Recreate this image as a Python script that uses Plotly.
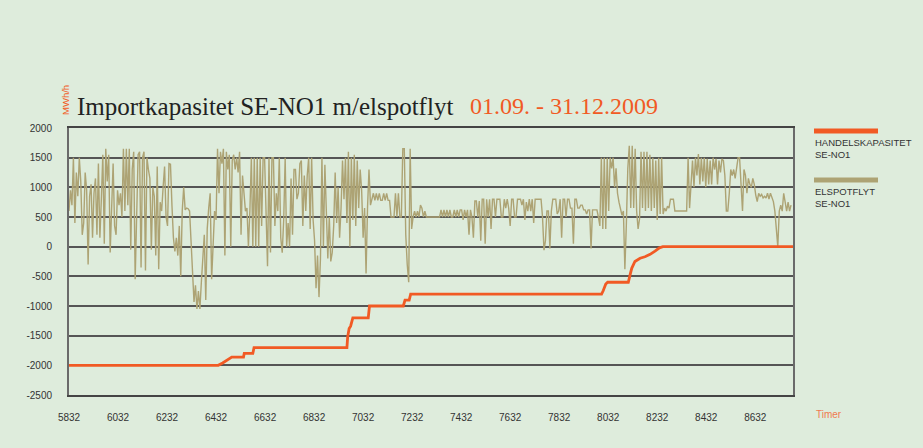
import plotly.graph_objects as go

# ---------------- data ----------------
# Hour index of first sample (01.09.2009 00:00) and sampling step (hours) of the flow series
flow_start = 5832
flow_step = 6

# ELSPOTFLYT SE-NO1 (MWh/h) at 6-hour resolution
flow_sep = [600, 950, 700, 1500, 400, 1250, 850, 1500, 1100, 200, 400, 1250,
            950, -300, 850, 1050, 150, 900, 1150, 200, 1400, 150, 800, 1550,
            50, 1650, 1100, 1550, -100, 800, 1400, 350, 200, 950, 700, 900,
            500, 1650, 600, 1650, 700, 1650, -50, 1300, 1600, -550, 400, 1550,
            1600, -350, 1500, 1600, -400, 1500, 1300, 1150, -50, 1000, 850, -150,
            1350, -380, 750, 600, 1000, 1350, 500, 350, 1400, 1390, 700, 150,
            -80, 150, -150, 350, -500, 600, 1000, 620, 650, 640, 600, 100,
            -600, -930, -650, -1050, -750, -1050, -600, -200, 200, -900, 300, 650,
            900, -550, 200, 600, 450, 1650, 900, 1600, 1400, 1650, -150, 1600,
            1300, 1550, 0, 1450, 1550, 1300, 1500, 1250, 1600, 200, 1200, 900]

flow_oct = [600, 650, 0, 600, 1500, 0, 1500, 0, 1500, 0, 1500, 350,
            1500, 1500, 350, -330, 1500, -100, 1500, 1500, 350, 900, 600, 1500,
            150, -100, 450, 1500, 0, 400, 0, 1150, 200, 1300, 1300, 800,
            900, 1400, 1450, 350, 1200, 600, 1200, 1500, 300, 1500, 450, 100,
            -700, -150, -850, -200, 1500, 0, 1380, 350, -200, 500, -250, -100,
            350, 1250, 400, 1000, 150, 650, 1450, 800, 1500, 400, 1600, 0,
            1500, 450, 1550, 350, 1450, 650, 1300, 950, 150, 650, -450, 650,
            1300, 700, 780, 900, 780, 900, 780, 900, 780, 780, 900, 780,
            900, 780, 780, 500, 500, 500, 900, 500, 900, 500, 500, 1650,
            1650, 200, -300, -600, 1650, 300, 500, 600, 500, 600, 500, 700,
            650, 500, 600, 500]

flow_nov = [500, 500, 500, 500, 500, 500, 500, 500, 500, 620, 500, 620,
            500, 620, 500, 620, 500, 500, 620, 500, 620, 500, 620, 620,
            450, 620, 500, 620, 200, 620, 500, 150, 770, 770, 500, 770,
            100, 800, 800, 50, 800, 500, 800, 300, 800, 800, 500, 800,
            800, 800, 500, 500, 800, 650, 800, 650, 350, 800, 800, 500,
            500, 800, 800, 800, 700, 800, 450, 750, 600, 800, 600, 800,
            400, 800, 800, 800, 800, 800, 500, -60, 100, 600, 600, -30,
            600, 800, 800, 800, 550, 600, 800, 150, 800, 800, 500, 800,
            800, 650, 650, 50, 800, 800, 650, 650, 700, 700, 620, 620,
            550, 620, 620, -30, 620, 620, 620, 620, 500, 350, 1500, 300]

flow_dec = [1500, 300, 1500, 600, 1500, 1320, 1500, 1000, 1320, 900, 750, 650,
            530, 600, -380, 370, 1320, 1700, 650, 1700, 650, 1650, 600, 300,
            470, 1600, 650, 1600, 600, 1600, 650, 1550, 600, 1500, 650, 1450,
            450, 1500, 550, 1500, 550, 650, 600, 680, 650, 800, 800, 800,
            600, 600, 600, 600, 600, 600, 600, 600, 600, 1500, 650, 1050,
            1450, 1000, 1500, 1200, 1560, 1050, 1500, 1100, 1500, 1000, 1480, 1050,
            1450, 1050, 1500, 1300, 1480, 1050, 1450, 1250, 1480, 1450, 1200, 600,
            600, 900, 1300, 1200, 1300, 1150, 1380, 1500, 1500, 900, 600, 1300,
            1200, 900, 1150, 1050, 1000, 1150, 1050, 870, 760, 900, 850, 880,
            820, 850, 820, 900, 800, 900, 820, 760, 600, 350, 0, 600,
            700, 600, 900, 750, 600, 750, 600, 700]

# HANDELSKAPASITET SE-NO1 (MWh/h): break points (hour, value)
cap_hours = [5832, 6441, 6459, 6475, 6496, 6544, 6547, 6582, 6587, 6966,
             6969, 6975, 6981, 6990, 7053, 7058, 7196, 7203, 7220, 7226,
             8005, 8012, 8022, 8030, 8114, 8121, 8128, 8141, 8162, 8182,
             8203, 8223, 8241, 8255, 8786]
cap_values = [-2000, -2000, -1960, -1920, -1860, -1860, -1800, -1800, -1700, -1700,
              -1520, -1380, -1340, -1200, -1200, -1000, -1000, -900, -900, -800,
              -800, -740, -630, -600, -600, -480, -365, -250, -195, -170,
              -130, -75, -20, 0, 0]

x_range = [5832, 8786]
y_range = [-2500, 2000]
x_ticks = [5832, 6032, 6232, 6432, 6632, 6832, 7032, 7232, 7432, 7632, 7832, 8032, 8232, 8432, 8632]
y_ticks = [-2500, -2000, -1500, -1000, -500, 0, 500, 1000, 1500, 2000]

title_main = "Importkapasitet SE-NO1 m/elspotflyt"
title_period = "01.09. - 31.12.2009"
unit_label = "MWh/h"
x_label = "Timer"
legend_labels = ["HANDELSKAPASITET<br>SE-NO1", "ELSPOTFLYT<br>SE-NO1"]

# ---------------- styles / layout ----------------
BG = "#deecdc"
ORANGE = "#f15a24"
KHAKI = "#ada374"
GRID = "#555555"
TXT = "#333333"

W, H = 923, 448
ML, MR, MT, MB = 69, 130, 128, 53
PW, PH = W - ML - MR, H - MT - MB

def px2paper(px, py):
    return (px - ML) / PW, (H - MB - py) / PH

flow = flow_sep + flow_oct + flow_nov + flow_dec
flow_hours = [flow_start + flow_step * i for i in range(len(flow))]

fig = go.Figure()
fig.add_trace(go.Scatter(x=flow_hours, y=flow, mode="lines",
                         line=dict(color=KHAKI, width=1.4), name="ELSPOTFLYT SE-NO1",
                         showlegend=False, hoverinfo="skip"))
fig.add_trace(go.Scatter(x=cap_hours, y=cap_values, mode="lines",
                         line=dict(color=ORANGE, width=2.8), name="HANDELSKAPASITET SE-NO1",
                         showlegend=False, hoverinfo="skip"))

font_sans = "Liberation Sans, Arial, sans-serif"
font_serif = "Liberation Serif, Times New Roman, serif"

fig.update_layout(
    width=W, height=H,
    margin=dict(l=ML, r=MR, t=MT, b=MB, pad=0),
    paper_bgcolor=BG, plot_bgcolor=BG,
    font=dict(family=font_sans, size=10, color=TXT),
    xaxis=dict(range=x_range, tickvals=x_ticks, ticktext=[str(v) for v in x_ticks],
               showgrid=False, zeroline=False, showline=True, mirror=True,
               linecolor="#444444", linewidth=1.5, ticks="",
               ticklabelstandoff=12, tickfont=dict(size=10, color=TXT)),
    yaxis=dict(range=y_range, tickvals=y_ticks, ticktext=[str(v) for v in y_ticks],
               showgrid=True, gridcolor=GRID, gridwidth=1.5, zeroline=False,
               showline=True, mirror=True, linecolor="#6a6a6a", linewidth=2, ticks="",
               ticklabelstandoff=13, tickfont=dict(size=10, color=TXT)),
)

annotations = [
    dict(text=title_main, px=75, py=106, anchor="left",
         font=dict(family=font_serif, size=25, color="#222222")),
    dict(text=title_period, px=468, py=106, anchor="left",
         font=dict(family=font_serif, size=24, color=ORANGE)),
    dict(text=unit_label, px=66, py=100, anchor="center", textangle=-90,
         font=dict(family=font_sans, size=9.5, color=ORANGE)),
    dict(text=x_label, px=814, py=414, anchor="left",
         font=dict(family=font_sans, size=10, color="#f07a50")),
    dict(text=legend_labels[0], px=813, py=148, anchor="left",
         font=dict(family=font_sans, size=9.5, color=TXT)),
    dict(text=legend_labels[1], px=813, py=197, anchor="left",
         font=dict(family=font_sans, size=9.5, color=TXT)),
]
final_ann = []
for a in annotations:
    px, py, anc = a.pop("px"), a.pop("py"), a.pop("anchor")
    x, y = px2paper(px, py)
    a.update(xref="paper", yref="paper", x=x, y=y, xanchor=anc,
             yanchor="middle", showarrow=False, align="left")
    final_ann.append(a)
fig.update_layout(annotations=final_ann)

legend_bars = [(814, 878, 131, ORANGE), (814, 878, 180, KHAKI)]
shapes = []
for x0, x1, y, c in legend_bars:
    a0, b0 = px2paper(x0, y)
    a1, _ = px2paper(x1, y)
    shapes.append(dict(type="line", xref="paper", yref="paper", x0=a0, x1=a1,
                       y0=b0, y1=b0, line=dict(color=c, width=5)))
fig.update_layout(shapes=shapes)

fig.write_html("out.html", config={"displayModeBar": False},
               post_script="document.body.style.margin='0px';"
                           "document.body.style.background='" + BG + "';")
